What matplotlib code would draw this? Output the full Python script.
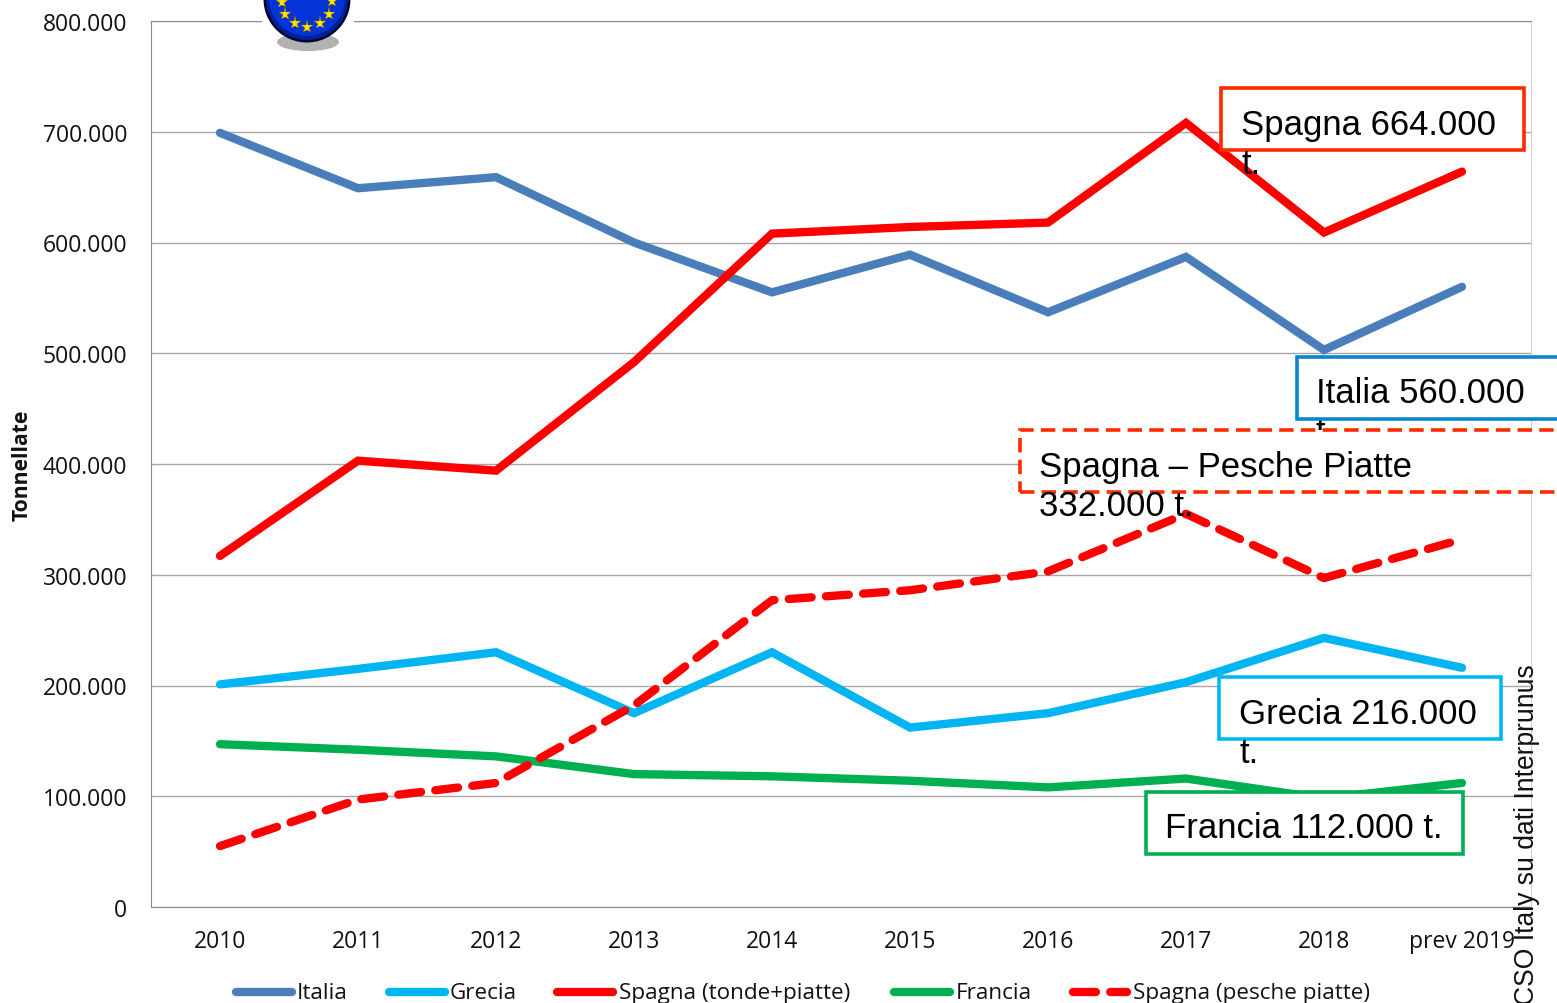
import matplotlib
matplotlib.use("Agg")
import matplotlib.pyplot as plt
from matplotlib.patches import Rectangle, Circle, Ellipse
from matplotlib.lines import Line2D

# dati
anni = ["2010", "2011", "2012", "2013", "2014", "2015", "2016", "2017", "2018", "prev 2019"]
italia = [699000, 649000, 659000, 600000, 555000, 589000, 537000, 587000, 503000, 560000]
grecia = [201000, 215000, 230000, 175000, 230000, 162000, 175000, 203000, 243000, 216000]
spagna = [317000, 403000, 394000, 492000, 608000, 614000, 618000, 708000, 609000, 664000]
francia = [147000, 142000, 136000, 120000, 118000, 114000, 108000, 116000, 98000, 112000]
spagna_piatte = [55000, 97000, 112000, 182000, 277000, 286000, 303000, 355000, 297000, 332000]
y_ticks = [0, 100000, 200000, 300000, 400000, 500000, 600000, 700000, 800000]
y_labels = ["0", "100.000", "200.000", "300.000", "400.000", "500.000", "600.000", "700.000", "800.000"]

W, H = 1557, 1004
plt.rcParams["font.family"] = ["Open Sans", "DejaVu Sans"]

fig = plt.figure(figsize=(W / 100, H / 100), dpi=100)
fig.patch.set_facecolor("white")

# area del grafico in pixel: x 151-1531, y 22-908
ax = fig.add_axes([151 / W, 1 - 908 / H, 1380 / W, 886 / H])
x = list(range(len(anni)))
LW = 6.0
DASH = (2.75, 1.72)
ax.plot(x, italia, color="#4a7ebb", lw=LW, solid_capstyle="round", solid_joinstyle="miter")
ax.plot(x, grecia, color="#00b5f1", lw=LW, solid_capstyle="round", solid_joinstyle="miter")
ax.plot(x, spagna, color="#ff0000", lw=LW, solid_capstyle="round", solid_joinstyle="miter")
ax.plot(x, francia, color="#00b050", lw=LW, solid_capstyle="round", solid_joinstyle="miter")
ax.plot(x, spagna_piatte, color="#ff0000", lw=LW, dash_capstyle="round", dashes=DASH)

ax.set_xlim(-0.5, 9.5)
ax.set_ylim(0, 800000)
ax.set_yticks(y_ticks)
ax.set_yticklabels(y_labels, fontsize=16.5, color="#111111", va="center_baseline")
ax.set_xticks(x)
ax.set_xticklabels(anni, fontsize=16.5, color="#111111")
ax.tick_params(axis="x", length=0, pad=15.5)
ax.tick_params(axis="y", length=0, pad=17)
ax.grid(axis="y", color="#a6a6a6", lw=1)
ax.set_axisbelow(True)
for s in ["top", "left", "bottom"]:
    ax.spines[s].set_color("#8c8c8c")
ax.spines["right"].set_color("#d0d0d0")

fig.text(22 / W, 1 - 465 / H, "Tonnellate", rotation=90, fontsize=15.2, fontweight="bold",
         ha="center", va="center", color="#111111")


# riquadri in pixel
def box(x0, y0, x1, y1, color, ls="-"):
    fig.add_artist(Rectangle((x0 / W, 1 - y1 / H), (x1 - x0) / W, (y1 - y0) / H,
                             transform=fig.transFigure, fc="white", ec=color, lw=2.6,
                             ls=ls, zorder=5))


def label(xp, yp, s, z=6):
    fig.text(xp / W, 1 - yp / H, s, fontsize=25, family="Liberation Sans", va="center",
             ha="left", color="black", zorder=z, linespacing=1.0)


box(1221, 89, 1524, 151, "#ff2a00")
label(1241, 125, "Spagna 664.000")
label(1241, 165, "t.")

box(1297, 358, 1570, 420, "#0a86cc")
label(1316, 394, "Italia 560.000")
label(1316, 433, "t.", z=4.5)

box(1020, 431, 1570, 493, "#ff2a00", ls=(0, (4, 2)))
label(1039, 467, "Spagna – Pesche Piatte")
label(1039, 506, "332.000 t.")

box(1219, 678, 1501, 740, "#00b9f2")
label(1239, 714, "Grecia 216.000")
label(1239, 754, "t.")

box(1146, 793, 1463, 855, "#00b050")
label(1165, 829, "Francia 112.000 t.")

fig.text(1527 / W, 1 - 664 / H, "CSO Italy su dati Interprunus", rotation=90, fontsize=19.1,
         family="Liberation Sans", ha="center", va="top", color="#111111", zorder=6)

# bandiera UE (semplificata)
fig.add_artist(Rectangle((262 / W, 1 - 30 / H), 92 / W, 30 / H, transform=fig.transFigure,
                         fc="white", ec="none", zorder=3))
ov = fig.add_axes([0, 0, 1, 1], facecolor="none", zorder=4)
ov.set_xlim(0, W)
ov.set_ylim(H, 0)
ov.axis("off")
ov.add_patch(Ellipse((308, 43), 62, 18, fc="#555555", ec="none", alpha=0.45))
ov.add_patch(Circle((307, 0), 43.5, fc="#02052e", ec="none"))
ov.add_patch(Circle((307, 0), 41, fc="#03209a", ec="none"))
ov.add_patch(Circle((307, -1), 38, fc="#0433d8", ec="none"))
ov.plot([282, 285, 295, 307, 320, 329, 332], [3, 15, 24, 28, 24, 15, 2], ls="none", marker="*",
        ms=9.5, color="#ffe600", mec="#806000", mew=0.3)

# legenda
leg_items = [
    (236, 292, "#4a7ebb", "-", 297, "Italia"),
    (389, 445, "#00b5f1", "-", 450, "Grecia"),
    (557, 613, "#ff0000", "-", 619, "Spagna (tonde+piatte)"),
    (894, 950, "#00b050", "-", 956, "Francia"),
    (1073, 1127, "#ff0000", "--", 1133, "Spagna (pesche piatte)"),
]
for x0, x1, col, st, xt, name in leg_items:
    if st == "-":
        ln = Line2D([x0, x1], [993, 993], color=col, lw=LW, solid_capstyle="round")
    else:
        ln = Line2D([x0, x1], [993, 993], color=col, lw=LW, dash_capstyle="round", dashes=DASH)
    ov.add_line(ln)
    ov.text(xt, 994, name, fontsize=16.2, va="center", ha="left", color="#111111")

fig.savefig("out.png", dpi=100)
